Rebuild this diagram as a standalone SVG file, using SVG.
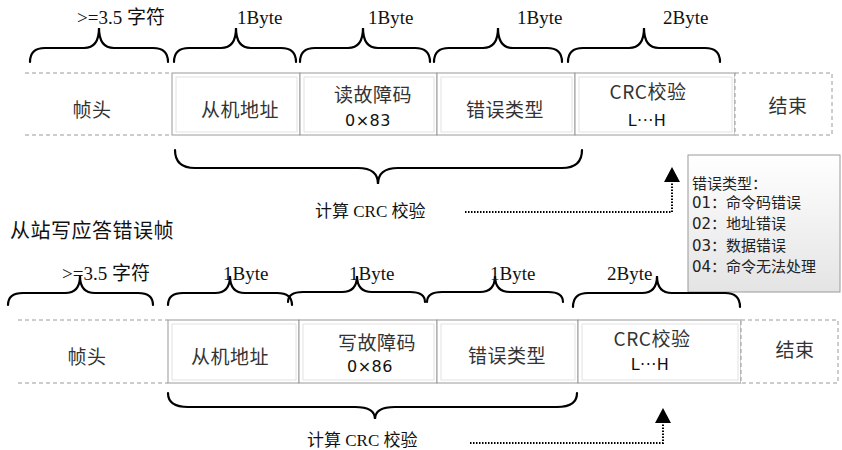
<svg xmlns="http://www.w3.org/2000/svg" width="842" height="450" viewBox="0 0 842 450">
<defs>
<linearGradient id="lg" x1="0" y1="0" x2="0" y2="1">
<stop offset="0" stop-color="#ffffff"/>
<stop offset="1" stop-color="#e4e4e4"/>
</linearGradient>
</defs>
<style>
.cell{fill:#fff;stroke:#9a9a9a;stroke-width:1}
.inner{fill:none;stroke:#e2e2e2;stroke-width:1}
.dash{fill:none;stroke:#9a9a9a;stroke-width:1;stroke-dasharray:4 3}
.dashbox{fill:#fff;stroke:#9a9a9a;stroke-width:1;stroke-dasharray:4 3}
.brace{fill:none;stroke:#000;stroke-width:2.2;stroke-linecap:round}
.cj{font-family:"Noto Sans CJK SC","Noto Sans",sans-serif;font-size:19px;fill:#333;text-anchor:middle;letter-spacing:0.5px}
.hx{font-family:"DejaVu Sans","Noto Sans",sans-serif;font-size:16px;fill:#111;text-anchor:middle;letter-spacing:0.5px}
.lbl{font-family:"Liberation Serif","Noto Sans CJK SC",serif;font-size:19px;fill:#111}
.calc{font-family:"Liberation Serif","Noto Sans CJK SC",serif;font-size:17px;fill:#111}
.title{font-family:"Noto Sans CJK SC",sans-serif;font-size:20px;fill:#111;letter-spacing:0.5px}
.leg{font-family:"DejaVu Sans","Noto Sans CJK SC",sans-serif;font-size:15px;fill:#222}
.dot{fill:none;stroke:#000;stroke-width:2;stroke-dasharray:1.5 1.5}
.arrow{fill:#000}
</style>
<rect width="842" height="450" fill="#fff"/>

<!-- Top frame -->
<g id="top-head">
<line class="dash" x1="25" y1="73" x2="172" y2="73"/>
<line class="dash" x1="25" y1="135" x2="172" y2="135"/>
<text class="cj" x="92" y="117">帧头</text>
</g>
<g id="top-addr">
<rect class="cell" x="172" y="73" width="128" height="62"/>
<rect class="inner" x="176" y="77" width="121" height="55"/>
<text class="cj" x="240" y="117">从机地址</text>
</g>
<g id="top-code">
<rect class="cell" x="300" y="73" width="137" height="62"/>
<rect class="inner" x="304" y="77" width="130" height="55"/>
<text class="cj" x="373" y="102">读故障码</text>
<text class="hx" x="368" y="126">0×83</text>
</g>
<g id="top-err">
<rect class="cell" x="437" y="73" width="138" height="62"/>
<rect class="inner" x="441" y="77" width="131" height="55"/>
<text class="cj" x="505" y="117">错误类型</text>
</g>
<g id="top-crc">
<rect class="cell" x="575" y="73" width="160" height="62"/>
<rect class="inner" x="579" y="77" width="153" height="55"/>
<text class="cj" x="648" y="99">CRC校验</text>
<text class="hx" x="647" y="126">L···H</text>
</g>
<g id="top-end">
<rect class="dashbox" x="735" y="73" width="97" height="62"/>
<text class="cj" x="788" y="113">结束</text>
</g>

<g id="top-braces">
<path class="brace" d="M30,62 Q30,48 45,48 L84,48 Q99,48 99,28 Q99,48 114,48 L153,48 Q168,48 168,62"/>
<path class="brace" d="M174,62 Q174,48 189,48 L221,48 Q236,48 236,28 Q236,48 251,48 L281,48 Q296,48 296,62"/>
<path class="brace" d="M300,62 Q300,48 315,48 L348,48 Q363,48 363,28 Q363,48 378,48 L415,48 Q430,48 430,62"/>
<path class="brace" d="M434,62 Q434,48 449,48 L483,48 Q498,48 498,28 Q498,48 513,48 L547,48 Q562,48 562,62"/>
<path class="brace" d="M568,62 Q568,48 583,48 L629,48 Q644,48 644,28 Q644,48 659,48 L705,48 Q720,48 720,62"/>
<path class="brace" d="M175,150 Q175,168 195,168 L358,168 Q378,168 378,184 Q378,168 398,168 L562,168 Q582,168 582,150"/>
</g>
<g id="top-labels">
<text class="lbl" x="77" y="24">&gt;=3.5 字符</text>
<text class="lbl" x="237" y="24">1Byte</text>
<text class="lbl" x="368" y="24">1Byte</text>
<text class="lbl" x="517" y="24">1Byte</text>
<text class="lbl" x="663" y="24">2Byte</text>
<text class="calc" x="315" y="217">计算 CRC 校验</text>
</g>

<g id="legend">
<rect x="688" y="155" width="152" height="137" fill="url(#lg)" stroke="#9a9a9a" stroke-width="1"/>
<text class="leg" x="692" y="189">错误类型：</text>
<text class="leg" x="692" y="208">01：命令码错误</text>
<text class="leg" x="692" y="229">02：地址错误</text>
<text class="leg" x="692" y="251">03：数据错误</text>
<text class="leg" x="692" y="272">04：命令无法处理</text>
</g>

<text id="title2" class="title" x="10" y="238">从站写应答错误帧</text>

<!-- Bottom frame -->
<g id="bot-head">
<line class="dash" x1="18" y1="320" x2="168" y2="320"/>
<line class="dash" x1="18" y1="383" x2="168" y2="383"/>
<text class="cj" x="87" y="364">帧头</text>
</g>
<g id="bot-addr">
<rect class="cell" x="168" y="320" width="131" height="63"/>
<rect class="inner" x="172" y="324" width="124" height="56"/>
<text class="cj" x="230" y="364">从机地址</text>
</g>
<g id="bot-code">
<rect class="cell" x="299" y="320" width="138" height="63"/>
<rect class="inner" x="303" y="324" width="131" height="56"/>
<text class="cj" x="377" y="350">写故障码</text>
<text class="hx" x="370" y="372">0×86</text>
</g>
<g id="bot-err">
<rect class="cell" x="437" y="320" width="141" height="63"/>
<rect class="inner" x="441" y="324" width="134" height="56"/>
<text class="cj" x="507" y="363">错误类型</text>
</g>
<g id="bot-crc">
<rect class="cell" x="578" y="320" width="163" height="63"/>
<rect class="inner" x="582" y="324" width="156" height="56"/>
<text class="cj" x="652" y="346">CRC校验</text>
<text class="hx" x="650" y="370">L···H</text>
</g>
<g id="bot-end">
<rect class="dashbox" x="741" y="320" width="97" height="63"/>
<text class="cj" x="795" y="357">结束</text>
</g>

<g id="bot-braces">
<path class="brace" d="M8,305 Q8,293 23,293 L65,293 Q80,293 80,276 Q80,293 95,293 L138,293 Q153,293 153,305"/>
<path class="brace" d="M168,305 Q168,293 183,293 L215,293 Q230,293 230,276 Q230,293 245,293 L277,293 Q292,293 292,305"/>
<path class="brace" d="M288,302 Q288,292 303,292 L342,292 Q357,292 357,276 Q357,292 372,292 L410,292 Q425,292 425,302"/>
<path class="brace" d="M427,302 Q427,292 442,292 L480,292 Q495,292 495,276 Q495,292 510,292 L548,292 Q563,292 563,302"/>
<path class="brace" d="M573,307 Q573,293 588,293 L642,293 Q657,293 657,276 Q657,293 672,293 L725,293 Q740,293 740,307"/>
<path class="brace" d="M168,393 Q168,407 188,407 L355,407 Q375,407 375,419 Q375,407 395,407 L557,407 Q577,407 577,393"/>
</g>
<g id="bot-labels">
<text class="lbl" x="62" y="280">&gt;=3.5 字符</text>
<text class="lbl" x="223" y="280">1Byte</text>
<text class="lbl" x="349" y="280">1Byte</text>
<text class="lbl" x="490" y="280">1Byte</text>
<text class="lbl" x="607" y="280">2Byte</text>
<text class="calc" x="307" y="446">计算 CRC 校验</text>
</g>

<g id="connectors">
<path class="dot" d="M465,212 L672,212 L672,181"/>
<polygon class="arrow" points="672,167 680,182 664,182"/>
<path class="dot" d="M470,443 L663,443 L663,422"/>
<polygon class="arrow" points="663,408 671,423 655,423"/>
</g>
</svg>
